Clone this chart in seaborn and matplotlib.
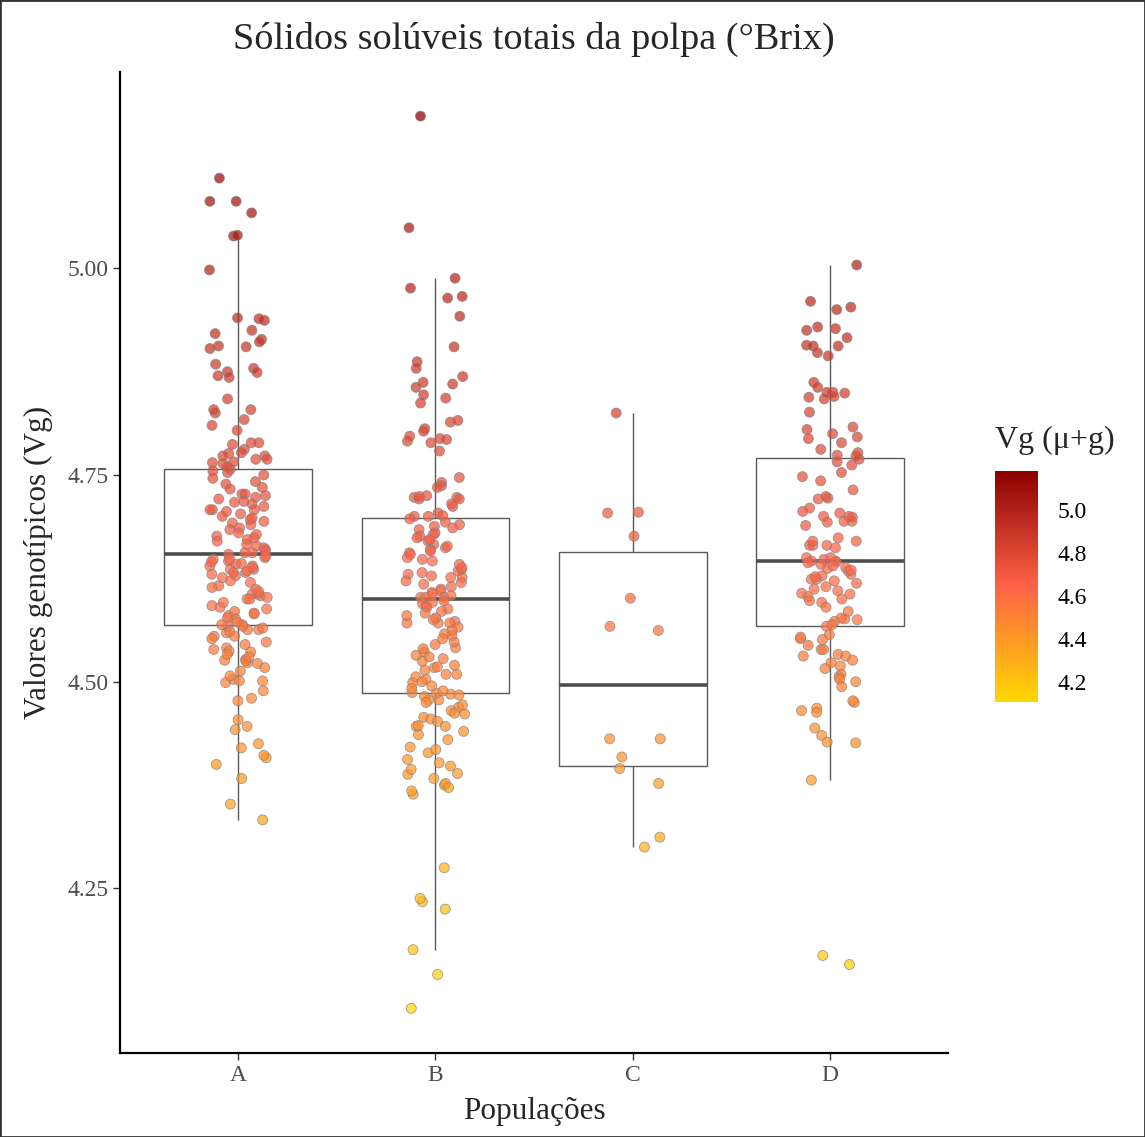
import numpy as np
import pandas as pd
import matplotlib
matplotlib.use("Agg")
import matplotlib.pyplot as plt
import seaborn as sns
from matplotlib.colors import LinearSegmentedColormap, Normalize
from matplotlib.cm import ScalarMappable
from matplotlib.patches import Rectangle

# Valores genotípicos (por população)
populacoes = ["A", "B", "C", "D"]

vg_a = [5.109, 5.081, 5.081, 5.067, 5.039, 5.040, 4.998,
        4.940, 4.937, 4.939, 4.925, 4.921, 4.914, 4.911, 4.906, 4.905, 4.903,
        4.884, 4.875, 4.870, 4.879, 4.874, 4.868,
        4.842, 4.825, 4.829, 4.829, 4.817, 4.810, 4.804,
        4.787, 4.789, 4.789, 4.781, 4.777, 4.773, 4.769, 4.776, 4.773, 4.769,
        4.765, 4.757, 4.755, 4.753, 4.746, 4.739, 4.742, 4.735, 4.723, 4.727,
        4.727, 4.733, 4.721, 4.717, 4.715, 4.708, 4.708, 4.708, 4.706,
        4.696, 4.698, 4.694, 4.692, 4.684, 4.678, 4.674, 4.672, 4.664,
        4.666, 4.660, 4.654, 4.656, 4.650, 4.646, 4.656,
        4.636, 4.642, 4.648, 4.640, 4.636, 4.628, 4.632, 4.640, 4.632,
        4.622, 4.616, 4.612, 4.606, 4.606, 4.604, 4.600,
        4.600, 4.590, 4.583, 4.580, 4.585, 4.577,
        4.569, 4.563, 4.567, 4.567, 4.569, 4.563, 4.559, 4.555, 4.555,
        4.541, 4.539, 4.537, 4.536, 4.548, 4.527, 4.526, 4.523, 4.525, 4.522,
        4.513, 4.501, 4.503, 4.499, 4.501, 4.489, 4.480, 4.477,
        4.454, 4.446, 4.442, 4.420, 4.408, 4.411, 4.425, 4.400, 4.383, 4.352, 4.333,
        4.760, 4.750, 4.764, 4.766, 4.725, 4.718, 4.712, 4.703, 4.700, 4.690,
        4.686, 4.680, 4.676, 4.670, 4.662, 4.658,
        4.652, 4.648, 4.645, 4.643, 4.638, 4.634, 4.630, 4.626, 4.620, 4.614,
        4.609, 4.602, 4.596, 4.592, 4.588, 4.582, 4.576, 4.572,
        4.565, 4.561, 4.552, 4.545, 4.533, 4.530, 4.517, 4.507]

vg_b = [5.184, 5.049, 4.988, 4.976, 4.966, 4.964, 4.942, 4.905, 4.887,
        4.879, 4.869, 4.862, 4.860, 4.856, 4.847, 4.843, 4.837, 4.814, 4.816,
        4.806, 4.803, 4.791, 4.789, 4.797, 4.794, 4.793, 4.779,
        4.741, 4.737, 4.747, 4.735, 4.723, 4.725, 4.723,
        4.721, 4.712, 4.724, 4.715, 4.721, 4.704, 4.700, 4.701, 4.700,
        4.690, 4.684, 4.676, 4.688, 4.680, 4.674, 4.670,
        4.662, 4.666, 4.656, 4.660, 4.658, 4.646, 4.650,
        4.632, 4.626, 4.634, 4.636, 4.626, 4.628, 4.620, 4.618, 4.612, 4.610,
        4.608, 4.602, 4.602, 4.602,
        4.594, 4.592, 4.590, 4.583, 4.573, 4.571, 4.571, 4.571, 4.577, 4.556,
        4.545, 4.536, 4.541, 4.532, 4.525,
        4.517, 4.509, 4.499, 4.503, 4.518, 4.509,
        4.487, 4.485, 4.478, 4.486, 4.478, 4.482,
        4.469, 4.461, 4.446, 4.436, 4.446, 4.465, 4.462, 4.457, 4.447,
        4.421, 4.414, 4.402, 4.389, 4.388, 4.394, 4.375, 4.377, 4.364, 4.368, 4.406,
        4.275, 4.234, 4.238, 4.225, 4.176, 4.146, 4.105,
        4.697, 4.693, 4.686, 4.678, 4.672, 4.664, 4.654, 4.648, 4.642, 4.638,
        4.630, 4.622, 4.615, 4.606, 4.604,
        4.598, 4.596, 4.588, 4.585, 4.580, 4.575, 4.566, 4.562, 4.558, 4.552,
        4.548, 4.540, 4.530, 4.528, 4.520, 4.514, 4.506, 4.500, 4.495, 4.492, 4.489,
        4.484, 4.475, 4.472, 4.455, 4.452, 4.440, 4.430, 4.418, 4.398, 4.383, 4.372]

vg_c = [4.825, 4.704, 4.705, 4.676, 4.601, 4.567, 4.562,
        4.431, 4.431, 4.409, 4.395, 4.377, 4.312, 4.300]

vg_d = [5.004, 4.960, 4.953, 4.950, 4.929, 4.927, 4.925, 4.916, 4.906, 4.907,
        4.906, 4.898, 4.894,
        4.862, 4.856, 4.850, 4.844, 4.849, 4.850, 4.842, 4.845,
        4.826, 4.808, 4.805, 4.800, 4.796, 4.794, 4.789, 4.777, 4.769,
        4.781, 4.774, 4.773, 4.766, 4.762, 4.753, 4.748, 4.743, 4.732,
        4.722, 4.724, 4.721, 4.710, 4.704, 4.700, 4.699, 4.706,
        4.694, 4.689, 4.700, 4.693, 4.694, 4.665, 4.665, 4.670, 4.674,
        4.665, 4.662, 4.670,
        4.648, 4.646, 4.645, 4.650, 4.646, 4.637, 4.650,
        4.630, 4.622, 4.634, 4.628, 4.624, 4.624,
        4.607, 4.596, 4.610, 4.606, 4.612, 4.600,
        4.576, 4.577, 4.575, 4.573, 4.567, 4.569,
        4.552, 4.554, 4.557, 4.551, 4.544,
        4.539, 4.533, 4.523, 4.539, 4.531, 4.531, 4.526,
        4.519, 4.516, 4.509, 4.500, 4.506, 4.503, 4.494,
        4.475, 4.477, 4.468, 4.465, 4.463,
        4.435, 4.444, 4.427, 4.426, 4.381, 4.169, 4.158,
        4.644, 4.642, 4.640, 4.638, 4.635, 4.627, 4.619, 4.615, 4.603, 4.598,
        4.590, 4.585]

df = pd.DataFrame({
    "Populações": ["A"] * len(vg_a) + ["B"] * len(vg_b) + ["C"] * len(vg_c) + ["D"] * len(vg_d),
    "Vg": vg_a + vg_b + vg_c + vg_d,
})

sns.set_theme(style="white")
plt.rcParams["font.family"] = ["Liberation Serif", "DejaVu Serif"]

cores = LinearSegmentedColormap.from_list("vg", ["gold", "tomato", "darkred"])
vmin, vmax = df["Vg"].min(), df["Vg"].max()
norm = Normalize(vmin, vmax)
margem = 0.05 * (vmax - vmin)

fig = plt.figure(figsize=(11.45, 11.37), dpi=100)
ax = fig.add_axes([0.1048, 0.0739, 0.7232, 0.8632])

sns.boxplot(data=df, x="Populações", y="Vg", order=populacoes, color="white",
            linecolor="#5a5a5a", linewidth=1.0, width=0.75, showfliers=False,
            showcaps=False, medianprops={"linewidth": 2.6, "color": "#4d4d4d"}, ax=ax)

np.random.seed(11)
sns.stripplot(data=df, x="Populações", y="Vg", order=populacoes, hue="Vg",
              palette=cores, hue_norm=norm, jitter=0.15, size=7.2, linewidth=0.6,
              edgecolor="#7f7f7f", alpha=0.72, legend=False, zorder=3, ax=ax)

ax.set_xlim(-0.6, 3.6)
ax.set_ylim(vmin - margem, vmax + margem)
ax.set_yticks([4.25, 4.50, 4.75, 5.00])
ax.set_yticklabels(["4.25", "4.50", "4.75", "5.00"])
for lado in ["top", "right"]:
    ax.spines[lado].set_visible(False)
for lado in ["left", "bottom"]:
    ax.spines[lado].set_color("black")
    ax.spines[lado].set_linewidth(1.6)
ax.tick_params(axis="both", length=5, width=1, color="#333333",
               labelcolor="#4d4d4d", labelsize=17, left=True, bottom=True)
ax.set_xlabel("Populações", fontsize=22.5, labelpad=8)
ax.set_ylabel("Valores genotípicos (Vg)", fontsize=22.5, labelpad=10)

fig.text(0.4664, 0.965, "Sólidos solúveis totais da polpa (°Brix)",
         ha="center", va="center", fontsize=27.5)

# Barra de cores
cax = fig.add_axes([0.869, 0.3826, 0.0376, 0.2032])
sm = ScalarMappable(norm=norm, cmap=cores)
cbar = fig.colorbar(sm, cax=cax, ticks=[4.2, 4.4, 4.6, 4.8, 5.0])
cbar.outline.set_visible(False)
cbar.ax.set_yticklabels(["4.2", "4.4", "4.6", "4.8", "5.0"])
cbar.ax.tick_params(direction="in", color="white", length=7, width=0.8,
                    left=True, right=True, labelsize=17, labelcolor="black", pad=14)
fig.text(0.869, 0.613, "Vg (μ+g)", ha="left", va="center", fontsize=23)

fig.patches.append(Rectangle((0, 0), 1, 1, transform=fig.transFigure, fill=False,
                             edgecolor="#333333", linewidth=2))

fig.savefig("out.png", dpi=100)
